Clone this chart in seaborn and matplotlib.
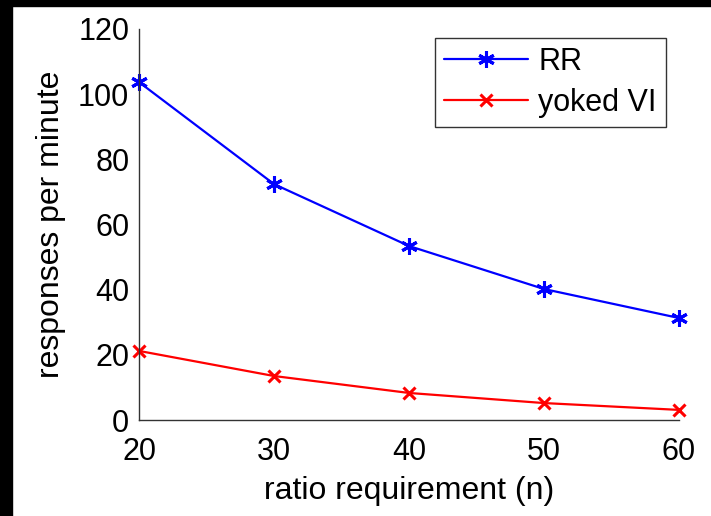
import matplotlib
matplotlib.use("Agg")
import matplotlib.pyplot as plt
import seaborn as sns
import pandas as pd
from matplotlib.patches import Rectangle

ratio = [20, 30, 40, 50, 60]
rr_rate = [103.7, 72.4, 53.4, 40.2, 31.3]
vi_rate = [21.2, 13.5, 8.3, 5.2, 3.1]
x_ticks = [20, 30, 40, 50, 60]
y_ticks = [0, 20, 40, 60, 80, 100, 120]

sns.set_theme(style="white")
plt.rcParams['font.family'] = ['Liberation Sans', 'DejaVu Sans']
plt.rcParams['text.color'] = 'black'
plt.rcParams['axes.labelcolor'] = 'black'

fig = plt.figure(figsize=(7.11, 5.16), dpi=100)
ax = fig.add_axes([139/711, 96/516, 540/711, 391/516])

asterisk = (6, 2, 0)
df_rr = pd.DataFrame({"n": ratio, "rate": rr_rate})
df_vi = pd.DataFrame({"n": ratio, "rate": vi_rate})
sns.lineplot(data=df_rr, x="n", y="rate", ax=ax, color=(0, 0, 1), marker=asterisk,
             markersize=12, markeredgewidth=2.2, markeredgecolor=(0, 0, 1),
             linewidth=1.6, label="RR", clip_on=False)
sns.lineplot(data=df_vi, x="n", y="rate", ax=ax, color=(1, 0, 0), marker="x",
             markersize=9, markeredgewidth=2.2, markeredgecolor=(1, 0, 0),
             linewidth=1.6, label="yoked VI", clip_on=False)

ax.set_xlim(20, 60)
ax.set_ylim(0, 120)
ax.set_xticks(x_ticks)
ax.set_yticks(y_ticks)
ax.tick_params(direction="in", length=5, width=1, colors="#333333",
               labelsize=22, labelcolor="black")
ax.tick_params(axis="x", pad=12)
ax.tick_params(axis="y", pad=7)
for s in ["top", "right"]:
    ax.spines[s].set_visible(False)
for s in ["left", "bottom"]:
    ax.spines[s].set_color("#333333")
    ax.spines[s].set_linewidth(1)
ax.set_xlabel("ratio requirement (n)", fontsize=23, labelpad=7)
ax.set_ylabel("responses per minute", fontsize=23, labelpad=9)

leg = ax.legend(loc="upper right", bbox_to_anchor=(666/711, 478/516),
                bbox_transform=fig.transFigure, fontsize=22, frameon=True,
                fancybox=False, edgecolor="black", handlelength=2.75,
                borderpad=0.3, labelspacing=0.35, handletextpad=0.35,
                borderaxespad=0)
leg.get_frame().set_linewidth(1)
for t in leg.get_texts():
    t.set_color("black")

# black border strips
fig.patches.append(Rectangle((0, 1 - 6/516), 1, 6/516, transform=fig.transFigure,
                             color="black", zorder=10))
fig.patches.append(Rectangle((0, 0), 12/711, 1, transform=fig.transFigure,
                             color="black", zorder=10))

fig.savefig("out.png", dpi=100, facecolor="white")
